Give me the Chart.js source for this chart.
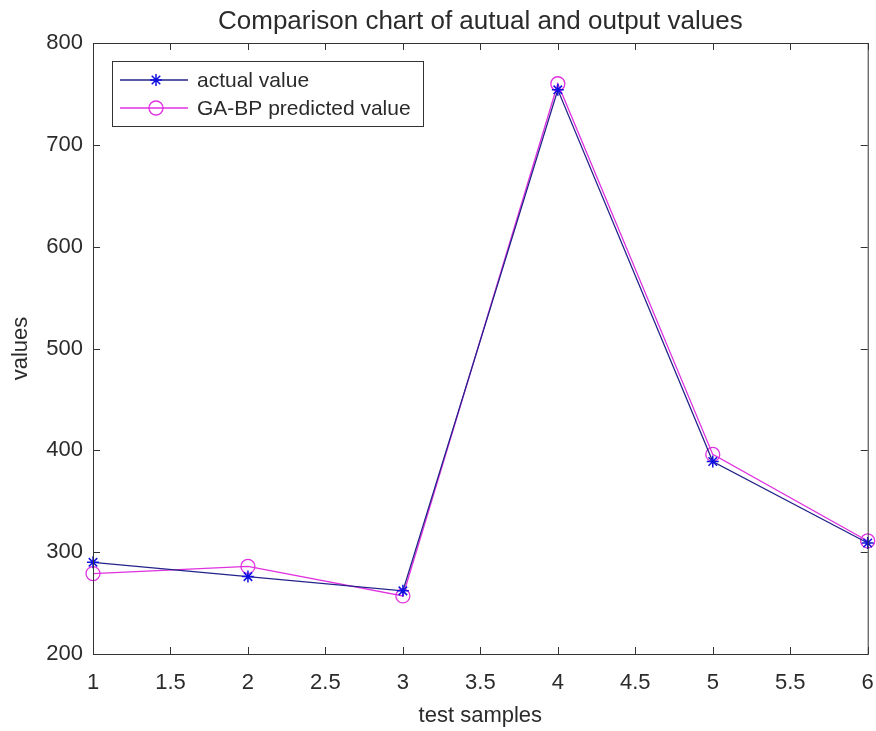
<!DOCTYPE html>
<html>
<head>
<meta charset="utf-8">
<script src="https://cdn.jsdelivr.net/npm/chart.js@4/dist/chart.umd.min.js"></script>
<style>
  html, body { margin: 0; padding: 0; background: #fff; }
  #wrap { width: 876px; height: 731px; }
</style>
</head>
<body>
<div id="wrap"><canvas id="chart" width="876" height="731"></canvas></div>
<script>
// values
var samples = [1, 2, 3, 4, 5, 6];
var actualValues = [290, 276, 262, 754, 389, 309];
var predictedValues = [279, 286, 257, 760, 396, 311];
var xTicks = [1, 1.5, 2, 2.5, 3, 3.5, 4, 4.5, 5, 5.5, 6];
var yTicks = [200, 300, 400, 500, 600, 700, 800];
var chartTitle = 'Comparison chart of autual and output values';

var textColor = '#2b2b2b';
var fontFamily = '"Liberation Sans", Arial, sans-serif';

function toPoints(xs, ys) {
  return xs.map(function (x, i) { return { x: x, y: ys[i] }; });
}

// box + inward ticks + legend + title over the axes, MATLAB style
var matlabBox = {
  id: 'matlabBox',
  afterDatasetsDraw: function (chart) {
    var ctx = chart.ctx, a = chart.chartArea;
    var xs = chart.scales.x, ys = chart.scales.y;
    ctx.save();
    ctx.strokeStyle = '#333';
    ctx.lineWidth = 1;
    ctx.strokeRect(a.left + 0.5, a.top + 0.5, a.right - a.left, a.bottom - a.top);
    ctx.beginPath();
    xTicks.forEach(function (v) {
      var px = Math.round(xs.getPixelForValue(v)) + 0.5;
      ctx.moveTo(px, a.bottom); ctx.lineTo(px, a.bottom - 7);
      ctx.moveTo(px, a.top); ctx.lineTo(px, a.top + 7);
    });
    yTicks.forEach(function (v) {
      var py = Math.round(ys.getPixelForValue(v)) + 0.5;
      ctx.moveTo(a.left, py); ctx.lineTo(a.left + 7, py);
      ctx.moveTo(a.right, py); ctx.lineTo(a.right - 7, py);
    });
    ctx.stroke();

    // title centred over the axes box
    ctx.fillStyle = textColor;
    ctx.font = '26px ' + fontFamily;
    ctx.textAlign = 'center';
    ctx.textBaseline = 'middle';
    ctx.fillText(chartTitle, (a.left + a.right) / 2, 22);

    // legend
    var lx = 112, ly = 61, lw = 311, lh = 65;
    ctx.fillStyle = '#fff';
    ctx.fillRect(lx, ly, lw, lh);
    ctx.strokeStyle = '#333';
    ctx.lineWidth = 1;
    ctx.strokeRect(lx + 0.5, ly + 0.5, lw, lh);
    ctx.font = '21px ' + fontFamily;
    ctx.textAlign = 'left';
    chart.data.datasets.forEach(function (ds, i) {
      var cy = ly + 19 + i * 28;
      ctx.strokeStyle = ds.borderColor;
      ctx.lineWidth = ds.borderWidth;
      ctx.beginPath();
      ctx.moveTo(lx + 8, cy); ctx.lineTo(lx + 76, cy);
      ctx.stroke();
      ctx.strokeStyle = ds.pointBorderColor;
      ctx.fillStyle = ds.pointBackgroundColor;
      ctx.lineWidth = ds.pointBorderWidth;
      Chart.helpers.drawPoint(ctx, {
        pointStyle: ds.pointStyle, radius: ds.pointRadius, borderWidth: ds.pointBorderWidth
      }, lx + 44, cy);
      ctx.fillStyle = textColor;
      ctx.fillText(ds.label, lx + 85, cy + 1);
    });
    ctx.restore();
  }
};

new Chart(document.getElementById('chart').getContext('2d'), {
  type: 'line',
  data: {
    datasets: [
      {
        label: 'actual value',
        data: toPoints(samples, actualValues),
        borderColor: '#22228a',
        borderWidth: 1.3,
        pointStyle: 'star',
        pointRadius: 6,
        pointBorderColor: '#1010e0',
        pointBackgroundColor: '#1010e0',
        pointBorderWidth: 1.5,
        fill: false,
        tension: 0
      },
      {
        label: 'GA-BP predicted value',
        data: toPoints(samples, predictedValues),
        borderColor: '#e030e0',
        borderWidth: 1.3,
        pointStyle: 'circle',
        pointRadius: 7,
        pointBorderColor: '#e030e0',
        pointBackgroundColor: 'rgba(0,0,0,0)',
        pointBorderWidth: 1.3,
        fill: false,
        tension: 0
      }
    ]
  },
  options: {
    responsive: false,
    animation: false,
    clip: false,
    layout: { padding: { left: 0, right: 8, top: 43, bottom: 0 } },
    plugins: {
      legend: { display: false },
      tooltip: { enabled: false },
      title: { display: false }
    },
    scales: {
      x: {
        type: 'linear',
        min: 1,
        max: 6,
        afterBuildTicks: function (s) { s.ticks = xTicks.map(function (v) { return { value: v }; }); },
        afterFit: function (s) { s.height = 77; s.paddingLeft = 0; s.paddingRight = 0; },
        grid: { display: false, drawTicks: false },
        border: { display: false },
        ticks: {
          color: textColor,
          font: { family: fontFamily, size: 22 },
          padding: 16,
          maxRotation: 0,
          callback: function (v) { return String(v); }
        },
        title: {
          display: true,
          text: 'test samples',
          color: textColor,
          font: { family: fontFamily, size: 22 },
          padding: { top: 4, bottom: 2 }
        }
      },
      y: {
        min: 200,
        max: 800,
        afterBuildTicks: function (s) { s.ticks = yTicks.map(function (v) { return { value: v }; }); },
        afterFit: function (s) { s.width = 93; s.paddingTop = 0; s.paddingBottom = 0; },
        grid: { display: false, drawTicks: false },
        border: { display: false },
        ticks: {
          color: textColor,
          font: { family: fontFamily, size: 22 },
          padding: 10
        },
        title: {
          display: true,
          text: 'values',
          color: textColor,
          font: { family: fontFamily, size: 22 },
          padding: { top: 8, bottom: 4 }
        }
      }
    }
  },
  plugins: [matlabBox]
});
</script>
</body>
</html>
